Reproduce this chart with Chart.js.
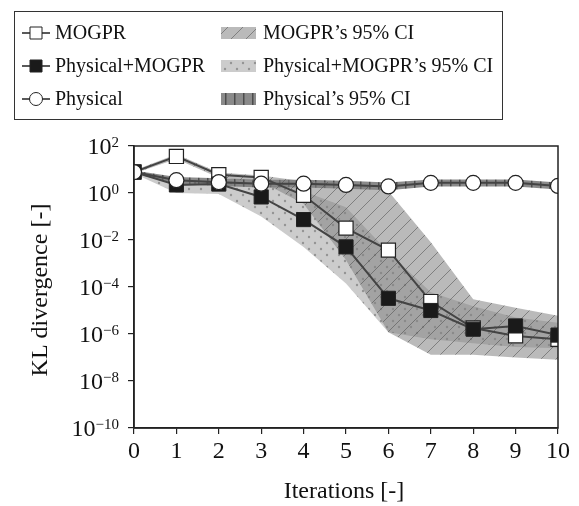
<!DOCTYPE html>
<html>
<head>
<meta charset="utf-8">
<script src="https://cdn.jsdelivr.net/npm/chart.js@4.4.0/dist/chart.umd.min.js"></script>
<style>
  html, body { margin: 0; padding: 0; background: #fff; }
  #wrap { width: 579px; height: 506px; }
</style>
</head>
<body>
<div id="wrap"><canvas id="klChart" width="579" height="506"></canvas></div>
<script>
// data
const iterations = [0, 1, 2, 3, 4, 5, 6, 7, 8, 9, 10];
const mogpr = [7.8, 36, 6.0, 4.6, 0.8, 0.032, 0.0037, 2.4e-5, 1.8e-6, 8.3e-7, 6e-7];
const physMogpr = [7.8, 2.2, 2.4, 0.68, 0.074, 0.0051, 3.3e-5, 1e-5, 1.6e-6, 2.2e-6, 9e-7];
const physical = [7.8, 3.5, 2.9, 2.5, 2.5, 2.2, 1.9, 2.7, 2.7, 2.7, 2.0];

const mogprUp = [9, 45, 7.5, 5.5, 3.2, 2.8, 1.2, 8e-3, 3e-5, 1.3e-5, 6e-6];
const mogprLo = [6.8, 28, 4.5, 3.0, 0.35, 1.4e-3, 1.2e-6, 1.3e-7, 1.3e-7, 1e-7, 8e-8];
const physMogprUp = [9, 3.5, 3.5, 2.5, 1.2, 0.25, 3e-3, 6e-5, 1.5e-5, 5e-6, 3e-6];
const physMogprLo = [6.8, 1.0, 0.9, 0.1, 5e-3, 1.4e-4, 1.2e-6, 6e-7, 4e-7, 2.8e-7, 2.5e-7];
const physicalUp = [9, 4.8, 4.2, 3.7, 3.7, 3.3, 2.8, 3.8, 3.8, 3.8, 2.8];
const physicalLo = [6.8, 2.5, 2.0, 1.7, 1.7, 1.5, 1.3, 1.9, 1.9, 1.9, 1.4];

const yExponents = [2, 0, -2, -4, -6, -8, -10];

const serif = '"Liberation Serif", "Times New Roman", serif';

function pts(arr) {
    return arr.map((v, i) => ({ x: iterations[i], y: v }));
}

// fill patterns for the CI bands
function hatch() {
    const c = document.createElement('canvas');
    c.width = 15; c.height = 15;
    const g = c.getContext('2d');
    g.fillStyle = 'rgba(130,130,130,0.55)';
    g.fillRect(0, 0, 15, 15);
    g.strokeStyle = 'rgba(70,70,70,0.5)';
    g.lineWidth = 1;
    g.beginPath();
    g.moveTo(0, 15); g.lineTo(15, 0);
    g.moveTo(-7.5, 7.5); g.lineTo(7.5, -7.5);
    g.moveTo(7.5, 22.5); g.lineTo(22.5, 7.5);
    g.stroke();
    return g.createPattern(c, 'repeat');
}
function dots() {
    const c = document.createElement('canvas');
    c.width = 12; c.height = 12;
    const g = c.getContext('2d');
    g.fillStyle = 'rgba(120,120,120,0.38)';
    g.fillRect(0, 0, 12, 12);
    g.fillStyle = 'rgba(80,80,80,0.45)';
    g.beginPath(); g.arc(3, 3, 1.2, 0, Math.PI * 2); g.fill();
    g.beginPath(); g.arc(9, 9, 1.2, 0, Math.PI * 2); g.fill();
    return g.createPattern(c, 'repeat');
}
function vgrid() {
    const c = document.createElement('canvas');
    c.width = 9; c.height = 9;
    const g = c.getContext('2d');
    g.fillStyle = 'rgba(60,60,60,0.6)';
    g.fillRect(0, 0, 9, 9);
    g.fillStyle = 'rgba(25,25,25,0.55)';
    g.fillRect(0, 0, 1.5, 9);
    return g.createPattern(c, 'repeat');
}

const hatchFill = hatch();
const dotFill = dots();
const gridFill = vgrid();

function band(up, lo, pattern) {
    return [
        { data: pts(up), fill: '+1', backgroundColor: pattern, borderWidth: 0, borderColor: 'rgba(0,0,0,0)', pointRadius: 0, order: 5 },
        { data: pts(lo), fill: false, borderWidth: 0, borderColor: 'rgba(0,0,0,0)', pointRadius: 0, order: 5 }
    ];
}

// frame, y labels with exponents, axis titles, legend
const decorPlugin = {
    id: 'decor',
    afterDatasetsDraw(chart) {
        const ctx = chart.ctx;
        const a = chart.chartArea;
        ctx.save();
        ctx.strokeStyle = '#222';
        ctx.lineWidth = 1.5;
        ctx.strokeRect(a.left, a.top, a.right - a.left, a.bottom - a.top);
        ctx.restore();
    },
    afterDraw(chart) {
        const ctx = chart.ctx;
        const ys = chart.scales.y;
        ctx.save();
        ctx.fillStyle = '#111';
        ctx.textBaseline = 'alphabetic';
        yExponents.forEach(e => {
            const py = ys.getPixelForValue(Math.pow(10, e));
            const sup = String(e).replace('-', '\u2212');
            ctx.font = '15px ' + serif;
            ctx.textAlign = 'right';
            const sw = ctx.measureText(sup).width;
            ctx.fillText(sup, 119, py + 1);
            ctx.font = '24px ' + serif;
            ctx.fillText('10', 119 - sw, py + 8);
        });

        // axis titles
        ctx.font = '24px ' + serif;
        ctx.textAlign = 'center';
        ctx.textBaseline = 'middle';
        ctx.fillText('Iterations [-]', 344, 492);
        ctx.save();
        ctx.translate(41, 290);
        ctx.rotate(-Math.PI / 2);
        ctx.fillText('KL divergence [-]', 0, 0);
        ctx.restore();

        // legend box
        ctx.strokeStyle = '#333';
        ctx.lineWidth = 1;
        ctx.strokeRect(14.5, 11.5, 488, 108);
        const rows = [33, 66, 99];
        const lineItems = [
            { text: 'MOGPR', shape: 'rect', fill: '#fff' },
            { text: 'Physical+MOGPR', shape: 'rect', fill: '#1a1a1a' },
            { text: 'Physical', shape: 'circle', fill: '#fff' }
        ];
        const ciItems = [
            { text: 'MOGPR\u2019s 95% CI', pattern: hatchFill },
            { text: 'Physical+MOGPR\u2019s 95% CI', pattern: dotFill },
            { text: 'Physical\u2019s 95% CI', pattern: gridFill }
        ];
        ctx.font = '20px ' + serif;
        ctx.textAlign = 'left';
        ctx.textBaseline = 'middle';
        lineItems.forEach((it, i) => {
            const y = rows[i];
            ctx.strokeStyle = '#222';
            ctx.lineWidth = 1.5;
            ctx.beginPath(); ctx.moveTo(22, y); ctx.lineTo(50, y); ctx.stroke();
            ctx.fillStyle = it.fill;
            ctx.lineWidth = 1;
            ctx.beginPath();
            if (it.shape === 'rect') ctx.rect(30, y - 6, 12, 12);
            else ctx.arc(36, y, 6.5, 0, Math.PI * 2);
            ctx.fill(); ctx.stroke();
            ctx.fillStyle = '#111';
            ctx.fillText(it.text, 55, y + 1);
        });
        ciItems.forEach((it, i) => {
            const y = rows[i];
            ctx.fillStyle = it.pattern;
            ctx.fillRect(221, y - 6, 35, 12);
            ctx.fillStyle = '#111';
            ctx.fillText(it.text, 263, y + 1);
        });
        ctx.restore();
    }
};

const ctx = document.getElementById('klChart');

new Chart(ctx, {
    type: 'line',
    data: {
        datasets: [
            { data: pts(physical), borderColor: '#444', borderWidth: 2, backgroundColor: '#fff',
              pointStyle: 'circle', pointRadius: 7.5, pointBorderColor: '#222', pointBorderWidth: 1.2, fill: false, order: 0 },
            { data: pts(physMogpr), borderColor: '#444', borderWidth: 2, backgroundColor: '#1a1a1a',
              pointStyle: 'rect', pointRadius: 10, pointBorderColor: '#222', pointBorderWidth: 1, fill: false, order: 1 },
            { data: pts(mogpr), borderColor: '#444', borderWidth: 2, backgroundColor: '#fff',
              pointStyle: 'rect', pointRadius: 10, pointBorderColor: '#222', pointBorderWidth: 1.2, fill: false, order: 2 },
            ...band(mogprUp, mogprLo, hatchFill),
            ...band(physMogprUp, physMogprLo, dotFill),
            ...band(physicalUp, physicalLo, gridFill)
        ]
    },
    options: {
        responsive: false,
        animation: false,
        layout: { padding: { top: 146, right: 21, left: 0, bottom: 0 } },
        elements: { line: { tension: 0 } },
        scales: {
            x: {
                type: 'linear',
                min: 0,
                max: 10,
                afterFit(scale) { scale.height = 78; },
                ticks: { stepSize: 1, color: '#111', padding: 3, font: { family: serif, size: 24 } },
                grid: { display: true, drawOnChartArea: false, drawTicks: true, tickLength: 6, color: '#222', lineWidth: 1.2 },
                border: { display: true, color: '#222', width: 1.5 }
            },
            y: {
                type: 'logarithmic',
                min: 1e-10,
                max: 1e2,
                afterFit(scale) { scale.width = 134; },
                afterBuildTicks(scale) {
                    scale.ticks = yExponents.map(e => ({ value: Math.pow(10, e) }));
                },
                ticks: { display: false },
                grid: { display: true, drawOnChartArea: false, drawTicks: true, tickLength: 6, color: '#222', lineWidth: 1.2 },
                border: { display: true, color: '#222', width: 1.5 }
            }
        },
        plugins: {
            legend: { display: false },
            tooltip: { enabled: false },
            filler: { drawTime: 'beforeDatasetsDraw' }
        }
    },
    plugins: [decorPlugin]
});
</script>
</body>
</html>
